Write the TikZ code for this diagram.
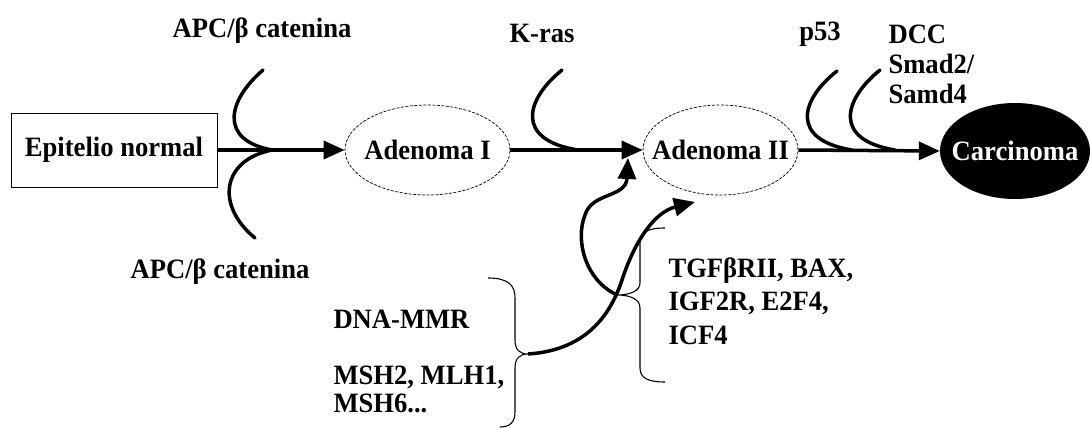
\documentclass[tikz,border=0pt]{standalone}
\usepackage{fontspec}
\setmainfont{Liberation Serif}
\newfontfamily\labelfont{Liberation Serif}[FakeStretch=0.95]
\usetikzlibrary{arrows.meta,shapes.geometric}

\begin{document}
\begin{tikzpicture}[x=1pt,y=-1pt,
  lbl/.style={font=\labelfont\fontsize{28}{30}\selectfont\bfseries},
  stage/.style={ellipse, draw, line width=0.7pt, dash pattern=on 3pt off 1.5pt,
    minimum height=90pt, inner sep=0pt, lbl},
  flow/.style={line width=3.5pt, -{Triangle[length=21pt,width=18pt]}},
  hit/.style={line width=3.5pt, line cap=round},
  brace/.style={line width=1.1pt},
]
\useasboundingbox (0,0) rectangle (1092,428);

% stages of the sequence
\node[draw, line width=1pt, minimum width=206pt, minimum height=74pt, inner sep=0pt, lbl]
  (norm) at (114,150) {Epitelio normal};
\node[stage, minimum width=165pt] (ad1) at (427.5,150) {\makebox[0pt]{Adenoma I}};
\node[stage, minimum width=155pt] (ad2) at (720.5,150) {\makebox[0pt]{Adenoma II}};
\node[ellipse, fill=black, minimum width=150pt, minimum height=96pt, inner sep=0pt,
  text=white, lbl] (carc) at (1015,151) {\makebox[0pt]{Carcinoma}};

\draw[flow] (norm.east) -- (ad1.west);
\draw[flow] (ad1.east) -- (ad2.west);
\draw[flow] (ad2.east) -- (carc.west);

% gene hits joining the main line
\coordinate (apcU) at (263,70);
\coordinate (apcL) at (255,238);
\coordinate (j1) at (272,150);
\coordinate (kras) at (562,70);
\coordinate (j2) at (578,150);
\coordinate (p53) at (837,71);
\coordinate (j3) at (852,150);
\coordinate (dcc) at (880,70);
\coordinate (j4) at (895,150);

\draw[hit] (apcU) .. controls (228,100) and (218,140) .. (j1);
\draw[hit] (j1) .. controls (222,160) and (215,205) .. (apcL);
\draw[hit] (kras) .. controls (525,100) and (515,140) .. (j2);
\draw[hit] (p53) .. controls (800,100) and (790,140) .. (j3);
\draw[hit] (dcc) .. controls (843,100) and (833,140) .. (j4);

\node[lbl] (apcTop) at (262,31) {APC/β catenina};
\node[lbl] (apcBot) at (220,272) {APC/β catenina};
\node[lbl] (krasL) at (542,33) {K-ras};
\node[lbl] (p53L) at (820,34) {p53};
\node[lbl, anchor=base west, align=left, font=\labelfont\fontsize{28}{30}\selectfont\bfseries]
  (dccL) at (885,103) {DCC\\Smad2/\\Samd4};

% mismatch repair pathway
\coordinate (mmrTip) at (528,354);
\coordinate (tgfTip) at (617,295);
\coordinate (ad2low) at (695,202);
\coordinate (ad2side) at (628,158);

\draw[brace] (488,278) .. controls (508,278) and (515,285) .. (515,298) -- (515,340)
  .. controls (515,350) and (520,354) .. (mmrTip)
  .. controls (520,354) and (515,358) .. (515,368) -- (515,412)
  .. controls (515,422) and (510,427) .. (500,427);
\draw[brace] (665,228) .. controls (648,228) and (640,232) .. (640,243) -- (640,283)
  .. controls (640,291) and (630,295) .. (tgfTip)
  .. controls (630,295) and (640,299) .. (640,308) -- (640,368)
  .. controls (640,378) and (648,382) .. (665,382);

\draw[flow] (mmrTip) .. controls (590,350) and (612,310) .. (622,280)
  .. controls (635,240) and (655,212) .. (ad2low);
\draw[flow] (tgfTip) .. controls (585,280) and (575,240) .. (585,215)
  .. controls (592,192) and (626,198) .. (ad2side);

\node[lbl, anchor=base west] (mmrL) at (330,328) {DNA-MMR};
\node[lbl, anchor=base west, align=left, font=\labelfont\fontsize{28}{28}\selectfont\bfseries]
  (mshL) at (330,412) {MSH2, MLH1,\\MSH6...};
\node[lbl, anchor=base west, align=left, font=\labelfont\fontsize{28}{33.5}\selectfont\bfseries]
  (tgfL) at (665,344) {TGFβRII, BAX,\\IGF2R, E2F4,\\ICF4};
\end{tikzpicture}
\end{document}
